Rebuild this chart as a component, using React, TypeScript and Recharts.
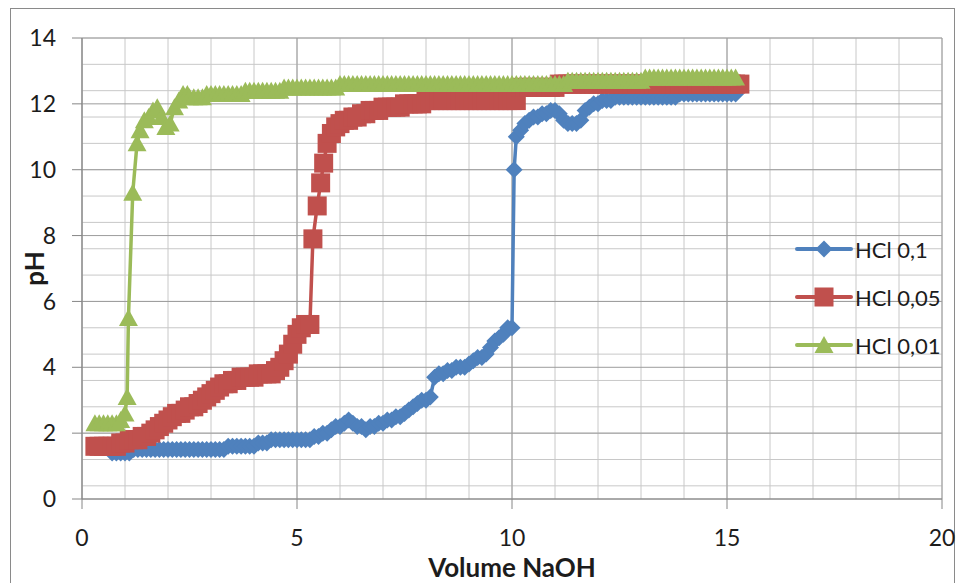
import React from 'react';
import { ScatterChart, Scatter, XAxis, YAxis, CartesianGrid, Legend } from 'recharts';

const volumeTicks = [0, 5, 10, 15, 20];
const phTicks = [0, 2, 4, 6, 8, 10, 12, 14];
const seriesNames = ['HCl 0,1', 'HCl 0,05', 'HCl 0,01'];

// HCl 0,1 : [volume NaOH, pH]
const hcl01: [number, number][] = [
  [0.7, 1.4], [0.8, 1.4], [0.9, 1.4], [1.0, 1.4], [1.1, 1.4], [1.2, 1.5], [1.3, 1.5], [1.4, 1.5], [1.5, 1.5], [1.6, 1.5],
  [1.7, 1.5], [1.8, 1.5], [1.9, 1.5], [2.0, 1.5], [2.1, 1.5], [2.2, 1.5], [2.3, 1.5], [2.4, 1.5], [2.5, 1.5], [2.6, 1.5],
  [2.7, 1.5], [2.8, 1.5], [2.9, 1.5], [3.0, 1.5], [3.1, 1.5], [3.2, 1.5], [3.3, 1.5], [3.4, 1.6], [3.5, 1.6], [3.6, 1.6],
  [3.7, 1.6], [3.8, 1.6], [3.9, 1.6], [4.0, 1.6], [4.1, 1.7], [4.2, 1.7], [4.3, 1.7], [4.4, 1.8], [4.5, 1.8], [4.6, 1.8],
  [4.7, 1.8], [4.8, 1.8], [4.9, 1.8], [5.0, 1.8], [5.1, 1.8], [5.2, 1.8], [5.3, 1.8], [5.4, 1.9], [5.5, 1.9], [5.6, 2.0],
  [5.7, 2.0], [5.8, 2.1], [5.9, 2.2], [6.0, 2.2], [6.1, 2.3], [6.2, 2.4], [6.3, 2.3], [6.4, 2.2], [6.5, 2.2], [6.6, 2.1],
  [6.7, 2.2], [6.8, 2.2], [6.9, 2.3], [7.0, 2.3], [7.1, 2.4], [7.2, 2.4], [7.3, 2.5], [7.4, 2.5], [7.5, 2.6], [7.6, 2.7],
  [7.7, 2.8], [7.8, 2.9], [7.9, 3.0], [8.0, 3.0], [8.1, 3.1], [8.2, 3.7], [8.3, 3.8], [8.4, 3.8], [8.5, 3.9], [8.6, 3.9],
  [8.7, 4.0], [8.8, 4.0], [8.9, 4.0], [9.0, 4.1], [9.1, 4.2], [9.2, 4.3], [9.3, 4.3], [9.4, 4.4], [9.5, 4.6], [9.6, 4.8],
  [9.7, 4.9], [9.8, 5.0], [9.9, 5.2], [10.0, 5.2], [10.05, 10.0], [10.1, 11.0], [10.2, 11.2], [10.3, 11.4], [10.4, 11.5], [10.5, 11.6],
  [10.6, 11.6], [10.7, 11.7], [10.8, 11.7], [10.9, 11.8], [11.0, 11.8], [11.1, 11.7], [11.2, 11.5], [11.3, 11.4], [11.4, 11.4], [11.5, 11.4],
  [11.6, 11.5], [11.7, 11.8], [11.8, 11.9], [11.9, 12.0], [12.0, 12.0], [12.1, 12.1], [12.2, 12.1], [12.3, 12.1], [12.4, 12.2], [12.5, 12.2],
  [12.6, 12.2], [12.7, 12.2], [12.8, 12.2], [12.9, 12.2], [13.0, 12.2], [13.1, 12.2], [13.2, 12.2], [13.3, 12.2], [13.4, 12.2], [13.5, 12.2],
  [13.6, 12.2], [13.7, 12.2], [13.8, 12.2], [13.9, 12.3], [14.0, 12.3], [14.1, 12.3], [14.2, 12.3], [14.3, 12.3], [14.4, 12.3], [14.5, 12.3],
  [14.6, 12.3], [14.7, 12.3], [14.8, 12.3], [14.9, 12.3], [15.0, 12.3], [15.1, 12.3], [15.2, 12.3],
];

// HCl 0,05 : [volume NaOH, pH]
const hcl005: [number, number][] = [
  [0.3, 1.6], [0.4, 1.6], [0.5, 1.6], [0.6, 1.6], [0.7, 1.6], [0.8, 1.6], [0.9, 1.7], [1.0, 1.7], [1.1, 1.8], [1.2, 1.8],
  [1.3, 1.8], [1.4, 1.9], [1.5, 1.9], [1.6, 2.0], [1.7, 2.1], [1.8, 2.2], [1.9, 2.3], [2.0, 2.4], [2.1, 2.5], [2.2, 2.6],
  [2.3, 2.6], [2.4, 2.7], [2.5, 2.8], [2.6, 2.8], [2.7, 2.9], [2.8, 3.0], [2.9, 3.1], [3.0, 3.2], [3.1, 3.3], [3.2, 3.4],
  [3.3, 3.5], [3.4, 3.5], [3.5, 3.6], [3.6, 3.6], [3.7, 3.7], [3.8, 3.7], [3.9, 3.7], [4.0, 3.7], [4.1, 3.8], [4.2, 3.8],
  [4.3, 3.8], [4.4, 3.8], [4.5, 3.9], [4.6, 4.0], [4.7, 4.2], [4.8, 4.4], [4.9, 4.7], [5.0, 5.0], [5.1, 5.2], [5.2, 5.3],
  [5.3, 5.3], [5.37, 7.9], [5.47, 8.9], [5.55, 9.6], [5.62, 10.2], [5.7, 10.8], [5.8, 11.1], [5.9, 11.3], [6.0, 11.4], [6.1, 11.5],
  [6.2, 11.5], [6.3, 11.6], [6.4, 11.6], [6.5, 11.7], [6.6, 11.7], [6.7, 11.8], [6.8, 11.8], [6.9, 11.8], [7.0, 11.9], [7.1, 11.9],
  [7.2, 11.9], [7.3, 11.9], [7.4, 11.9], [7.5, 12.0], [7.6, 12.0], [7.7, 12.0], [7.8, 12.0], [7.9, 12.0], [8.0, 12.1], [8.1, 12.1],
  [8.2, 12.1], [8.3, 12.1], [8.4, 12.1], [8.5, 12.1], [8.6, 12.1], [8.7, 12.1], [8.8, 12.1], [8.9, 12.1], [9.0, 12.1], [9.1, 12.1],
  [9.2, 12.1], [9.3, 12.1], [9.4, 12.1], [9.5, 12.1], [9.6, 12.1], [9.7, 12.1], [9.8, 12.1], [9.9, 12.1], [10.0, 12.1], [10.1, 12.1],
  [10.2, 12.5], [10.3, 12.5], [10.4, 12.5], [10.5, 12.5], [10.6, 12.5], [10.7, 12.5], [10.8, 12.5], [10.9, 12.5], [11.0, 12.5], [11.1, 12.6],
  [11.2, 12.6], [11.3, 12.6], [11.4, 12.6], [11.5, 12.6], [11.6, 12.6], [11.7, 12.6], [11.8, 12.6], [11.9, 12.6], [12.0, 12.6], [12.1, 12.6],
  [12.2, 12.6], [12.3, 12.6], [12.4, 12.6], [12.5, 12.6], [12.6, 12.6], [12.7, 12.6], [12.8, 12.6], [12.9, 12.6], [13.0, 12.6], [13.1, 12.6],
  [13.2, 12.6], [13.3, 12.6], [13.4, 12.6], [13.5, 12.6], [13.6, 12.6], [13.7, 12.6], [13.8, 12.6], [13.9, 12.6], [14.0, 12.6], [14.1, 12.6],
  [14.2, 12.6], [14.3, 12.6], [14.4, 12.6], [14.5, 12.6], [14.6, 12.6], [14.7, 12.6], [14.8, 12.6], [14.9, 12.6], [15.0, 12.6], [15.1, 12.6],
  [15.2, 12.6], [15.3, 12.6],
];

// HCl 0,01 : [volume NaOH, pH]
const hcl001: [number, number][] = [
  [0.3, 2.3], [0.4, 2.3], [0.5, 2.3], [0.6, 2.3], [0.7, 2.3], [0.8, 2.3], [0.9, 2.4], [1.0, 2.6], [1.05, 3.1], [1.08, 5.5],
  [1.18, 9.3], [1.28, 10.8], [1.35, 11.2], [1.45, 11.5], [1.55, 11.6], [1.65, 11.8], [1.75, 11.9], [1.85, 11.6], [1.95, 11.3], [2.05, 11.4],
  [2.15, 11.9], [2.25, 12.1], [2.35, 12.3], [2.45, 12.3], [2.5, 12.2], [2.6, 12.2], [2.7, 12.2], [2.8, 12.2], [2.9, 12.3], [3.0, 12.3],
  [3.1, 12.3], [3.2, 12.3], [3.3, 12.3], [3.4, 12.3], [3.5, 12.3], [3.6, 12.3], [3.7, 12.3], [3.8, 12.4], [3.9, 12.4], [4.0, 12.4],
  [4.1, 12.4], [4.2, 12.4], [4.3, 12.4], [4.4, 12.4], [4.5, 12.4], [4.6, 12.4], [4.7, 12.5], [4.8, 12.5], [4.9, 12.5], [5.0, 12.5],
  [5.1, 12.5], [5.2, 12.5], [5.3, 12.5], [5.4, 12.5], [5.5, 12.5], [5.6, 12.5], [5.7, 12.5], [5.8, 12.5], [5.9, 12.5], [6.0, 12.6],
  [6.1, 12.6], [6.2, 12.6], [6.3, 12.6], [6.4, 12.6], [6.5, 12.6], [6.6, 12.6], [6.7, 12.6], [6.8, 12.6], [6.9, 12.6], [7.0, 12.6],
  [7.1, 12.6], [7.2, 12.6], [7.3, 12.6], [7.4, 12.6], [7.5, 12.6], [7.6, 12.6], [7.7, 12.6], [7.8, 12.6], [7.9, 12.6], [8.0, 12.6],
  [8.1, 12.6], [8.2, 12.6], [8.3, 12.6], [8.4, 12.6], [8.5, 12.6], [8.6, 12.6], [8.7, 12.6], [8.8, 12.6], [8.9, 12.6], [9.0, 12.6],
  [9.1, 12.6], [9.2, 12.6], [9.3, 12.6], [9.4, 12.6], [9.5, 12.6], [9.6, 12.6], [9.7, 12.6], [9.8, 12.6], [9.9, 12.6], [10.0, 12.6],
  [10.1, 12.6], [10.2, 12.6], [10.3, 12.6], [10.4, 12.6], [10.5, 12.6], [10.6, 12.6], [10.7, 12.6], [10.8, 12.6], [10.9, 12.6], [11.0, 12.6],
  [11.1, 12.6], [11.2, 12.6], [11.3, 12.7], [11.4, 12.7], [11.5, 12.7], [11.6, 12.7], [11.7, 12.7], [11.8, 12.7], [11.9, 12.7], [12.0, 12.7],
  [12.1, 12.7], [12.2, 12.7], [12.3, 12.7], [12.4, 12.7], [12.5, 12.7], [12.6, 12.7], [12.7, 12.7], [12.8, 12.7], [12.9, 12.7], [13.0, 12.7],
  [13.1, 12.8], [13.2, 12.8], [13.3, 12.8], [13.4, 12.8], [13.5, 12.8], [13.6, 12.8], [13.7, 12.8], [13.8, 12.8], [13.9, 12.8], [14.0, 12.8],
  [14.1, 12.8], [14.2, 12.8], [14.3, 12.8], [14.4, 12.8], [14.5, 12.8], [14.6, 12.8], [14.7, 12.8], [14.8, 12.8], [14.9, 12.8], [15.0, 12.8],
  [15.1, 12.8], [15.2, 12.8],
];

const BLUE = '#4f81bd';
const RED = '#c0504d';
const GREEN = '#9bbb59';
const FONT = 'Lato, "Open Sans", sans-serif';
const TEXT = '#1c1c1c';

// grid line positions (styling only)
const minorY = Array.from({ length: 36 }, (_, i) => Math.round(i * 0.4 * 10) / 10);
const minorX = Array.from({ length: 21 }, (_, i) => i);

const toPoints = (arr: [number, number][]) => arr.map(([x, y]) => ({ x, y }));

const diamondPts = (cx: number, cy: number, r: number) =>
  `${cx},${cy - r} ${cx + r},${cy} ${cx},${cy + r} ${cx - r},${cy}`;
const trianglePts = (cx: number, cy: number) =>
  `${cx},${cy - 9} ${cx + 9.5},${cy + 8} ${cx - 9.5},${cy + 8}`;

const DiamondShape = (p: any) => <polygon points={diamondPts(p.cx, p.cy, 8.5)} fill={BLUE} />;
const SquareShape = (p: any) => <rect x={p.cx - 9.5} y={p.cy - 9.5} width={19} height={19} fill={RED} />;
const TriangleShape = (p: any) => <polygon points={trianglePts(p.cx, p.cy)} fill={GREEN} />;

const legendRows = [
  { name: seriesNames[0], color: BLUE, marker: (cx: number, cy: number) => <polygon points={diamondPts(cx, cy, 8.5)} fill={BLUE} /> },
  { name: seriesNames[1], color: RED, marker: (cx: number, cy: number) => <rect x={cx - 9.5} y={cy - 9.5} width={19} height={19} fill={RED} /> },
  { name: seriesNames[2], color: GREEN, marker: (cx: number, cy: number) => <polygon points={trianglePts(cx, cy)} fill={GREEN} /> },
];

const LegendBox = () => (
  <div style={{ display: 'flex', flexDirection: 'column' }}>
    {legendRows.map((r) => (
      <div key={r.name} style={{ display: 'flex', alignItems: 'center', height: 48 }}>
        <svg width={58} height={24} style={{ display: 'block' }}>
          <line x1={2} y1={12} x2={56} y2={12} stroke={r.color} strokeWidth={4} strokeLinecap="round" />
          {r.marker(29, 12)}
        </svg>
        <span style={{ fontFamily: FONT, fontSize: 22, color: TEXT, marginLeft: 2, whiteSpace: 'nowrap' }}>{r.name}</span>
      </div>
    ))}
  </div>
);

export default function App() {
  return (
    <div style={{ position: 'absolute', left: 0, top: 0, width: 963, height: 583, background: '#ffffff', overflow: 'hidden' }}>
      <div
        style={{
          position: 'absolute', left: 10, top: 8, width: 945, height: 640,
          border: '1.5px solid #8a8a8a', boxSizing: 'border-box',
        }}
      />
      <div style={{ position: 'absolute', left: 0, top: 0 }}>
        <ScatterChart width={963} height={583} margin={{ top: 38, right: 21, bottom: 4, left: 12 }}>
          <CartesianGrid stroke="#c8c8c8" strokeWidth={1} horizontalValues={minorY} verticalValues={minorX} />
          <CartesianGrid stroke="#9c9c9c" strokeWidth={1} horizontalValues={phTicks} verticalValues={volumeTicks} />
          <XAxis
            type="number"
            dataKey="x"
            domain={[0, 20]}
            ticks={volumeTicks}
            allowDataOverflow
            height={80}
            tickSize={10}
            tickMargin={21}
            stroke="#868686"
            tick={{ fill: TEXT, fontSize: 23, fontFamily: FONT }}
            label={{ value: 'Volume NaOH', position: 'insideBottom', offset: 2, style: { fontWeight: 700, fontSize: 26, fill: TEXT, fontFamily: FONT } }}
          />
          <YAxis
            type="number"
            dataKey="y"
            domain={[0, 14]}
            ticks={phTicks}
            allowDataOverflow
            width={70}
            tickSize={10}
            tickMargin={16}
            stroke="#868686"
            tick={{ fill: TEXT, fontSize: 23, fontFamily: FONT }}
            label={{ value: 'pH', angle: -90, position: 'insideLeft', offset: 23, style: { textAnchor: 'middle', fontWeight: 700, fontSize: 26, fill: TEXT, fontFamily: FONT } }}
          />
          <Scatter
            name={seriesNames[0]}
            data={toPoints(hcl01)}
            fill={BLUE}
            line={{ stroke: BLUE, strokeWidth: 3.5 }}
            shape={DiamondShape}
            isAnimationActive={false}
          />
          <Scatter
            name={seriesNames[1]}
            data={toPoints(hcl005)}
            fill={RED}
            line={{ stroke: RED, strokeWidth: 3.5 }}
            shape={SquareShape}
            isAnimationActive={false}
          />
          <Scatter
            name={seriesNames[2]}
            data={toPoints(hcl001)}
            fill={GREEN}
            line={{ stroke: GREEN, strokeWidth: 3.5 }}
            shape={TriangleShape}
            isAnimationActive={false}
          />
          <Legend
            layout="vertical"
            align="center"
            verticalAlign="middle"
            wrapperStyle={{ left: 795, top: 225, width: 168, height: 150 }}
            content={() => <LegendBox />}
          />
        </ScatterChart>
      </div>
    </div>
  );
}
